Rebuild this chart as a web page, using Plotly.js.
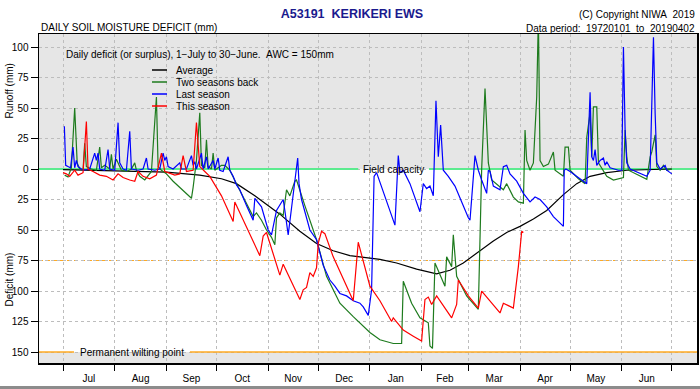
<!DOCTYPE html>
<html><head><meta charset="utf-8">
<script src="https://cdn.plot.ly/plotly-3.0.1.min.js"></script>
<style>html,body{margin:0;padding:0;background:#fff}#chart{width:700px;height:389px}</style>
</head><body><div id="chart"></div>
<script>
// ---- categories / ticks ----
const monthNames = ['Jul','Aug','Sep','Oct','Nov','Dec','Jan','Feb','Mar','Apr','May','Jun'];
const monthLengths = [31,31,30,31,30,31,31,28,31,30,31,30];
const yTickVals = [100,75,50,25,0,-25,-50,-75,-100,-125,-150];
const yTickText = ['100','75','50','25','0','25','50','75','100','125','150'];
const seriesNames = ['Average','Two seasons back','Last season','This season'];
const seriesColors = ['#000000','#1e7b1e','#0000ff','#ff0000'];
const fieldCapacity = 0, stressLine = -75, wiltingPoint = -150;

// ---- series: day of season (0 = 1 July), value (+ runoff, - deficit) ----
const avgDay = [0,20,40,62,82,95,104,115,130,142,152,162,172,182,190,200,212,224,232,240,250,258,266,274,282,290,300,308,316,326,338,350,365];
const avgVal = [-0.5,-1,-1.5,-2.5,-5,-8,-12,-22,-37,-51,-61,-67,-71,-72.5,-74,-77,-82,-86,-83,-77,-67,-59,-52,-47,-41,-34,-21,-12,-6,-3,-1,-0.5,0];

const twoBackDay = [1,3,5,7,8.5,10,12,13,14,17,20,22,23,25,28,29,30,32,35,38,41,43,44,46,49,53,56,57,59,62,66,70,74,77,78,80,82,83,85,86,87,89,90,91,93,95,97,100,104,108,114,116,119,122,125,127,128,130,132,134,136,139,140,145,152,158,166,174,184,190,198,203,204,209,214,219,220,221.5,223,229,230,233,234,236,242,249,251,253,254,255,257,264,266,270,273,276,277,278,280,282,284,285,286,288,291,294,295,300,301,303,304,309,313,314,316,317,318,320,321,326,330,334,336,337,338,339,345,350,352,353,355,356,358,360,362,365];
const twoBackVal = [-5,-6.5,1,50,5,0,-1,21,2,0,-1,18,1,3,0,12,0,8,-1,-2,0,5,-1,-6,-9,-2,59,2,-1,-4,-10,-15,-20,-24,-15,7,46,3,1,24,2,0,13,-1,1,3,3,-1,-12,-23,-39,-36,-42,-50,-56,-62,-40,-36,-38,-17,-22,-10,-9,-30,-58,-88,-110,-121,-134,-140,-143,-143,-92,-110,-122,-126,-145,-147,-77,-96,-72,-80,-54,-88,-104,-115,0,66,35,5,-9,-17,-12,-23,-27,-28,32,7,-1,5,59,125,7,2,4,14,-1,-6,18,18,-1,-8,-12,26,46,10,51,51,5,-6,-9,-8,-7,32,10,-1,-5,-8.5,10,14,28,2,-1,3,-1,0];

const lastDay = [0.8,1.6,3,4.5,6,7,8,9,12,16,19,20,21,22,25,27,28,31,33,34,36,38,40,41,45,48,50,51,55,58,60,61,62,63,66,70,71,74,77,78,79,80,83,84,86,87,90,91,93,94,96,99,100,102,104,106,110,114,115,119,123,125,128,130,132,133,135,137,139,140.7,141.5,143,148,152,156,160,163,166,170,174,178,180,183,185,186.5,188,199,201,202,204,208,214,216,218,220,222,223.6,225,226.4,228,231,235,243,244,247,249,251,254,255,256,258,262,264,266,268,272,276,280,283,286,290,294,300,300.5,301.5,304,314,315,316,317,318,319,320,322,324,325,326,328,333,335,336,337,338,340,350,352,353,354,355,356,358,361,362,365];
const lastVal = [35,3,2,1,18,1,7,2,-1,0,13,7,13,0,-1,16,0,-1,38,5,0,-1,31,0,-1,0,9,0,-1,0,13,7,10,2,0,5,0,0,11,3,6,0,13,0,10,0,7,0,9,-1,-2,10,-1,-6,-13,-17,-30,-42,-24,-31,-50,-54,-34,-30,-25,-34,-54,-32,-12,9,-12,-25,-50,-58,-79,-91,-96,-102,-104,-108,-110,-113,-120,-99,-6,-3,-46,11,-3,-1,-12,-35,-12,-16,-14,-22,56,10,36,-1,-6,-14,-40,-42,11,-1,-9,-20,-1,-2,-14,-17,2,3,-4,-10,-20,-27,-23,-25,-31,-39,-47,-1,0,-2,-12,26,63,10,7,16,3,7,9,3,6,1,-1,-1,100,32,5,0,-6,-1,46,108,46,5,0,3,-1,-4];

const thisDay = [0,2,4,7,9,12,14,15,18,22,26,30,33,36,40,43,45,48,52,56,59,61,63,67,70,72,74,78,80,82,85,88,95,102,103,110,118,120,122,130,132,142,144,146,148,150,152,153,155,157,162,168,174,177,184,190,197,198,204,210,215,217,219,221,224,233,236,237,243,249,251,262,264,267,270,273,275,276];
const thisVal = [-3,-4,-6,-1,-5,-3,39,0,-2,-5,-6,-9,-4,-7,-9,-10,-2,-6,-8,-5,13,-2,-3,-5,-4,11,-2,-1,38,2,-2,-6,-22,-43,-27,-48,-71,-55,-52,-87,-78,-107,-99,-97,-85,-88,-81,-61,-51,-53,-72,-90,-108,-60,-96,-108,-125,-122,-132,-137,-141,-107,-105,-111,-104,-122,-111,-91,-104,-114,-100,-118,-110,-112,-114,-80,-51,-52];

// ---- geometry (pixels of the 700x389 page) ----
const W = 700, H = 389;
const M = {l:39, r:3, t:34, b:26};
const PW = W - M.l - M.r, PH = H - M.t - M.b;
const px = x => (x - M.l) / PW;          // page x -> paper x
const py = y => (H - M.b - y) / PH;      // page y -> paper y
const X0 = -14.4, X1 = 380.1, Y0 = -159, Y1 = 110.66;

const monthStarts = [0];
monthLengths.forEach(l => monthStarts.push(monthStarts[monthStarts.length-1] + l));
const monthMids = monthLengths.map((l,i) => monthStarts[i] + l/2);

const FONT = 'Liberation Sans, Arial, Helvetica, sans-serif';
const NB = '\u00a0';

const seriesX = [avgDay, twoBackDay, lastDay, thisDay];
const seriesY = [avgVal, twoBackVal, lastVal, thisVal];
const traces = seriesNames.map((n,i) => ({
  type:'scatter', mode:'lines', name:n, x:seriesX[i], y:seriesY[i],
  line:{color:seriesColors[i], width:1.2}, showlegend:false, hoverinfo:'skip'
}));
// carrier for the month-name axis (no visible marks)
traces.unshift({type:'scatter', mode:'lines', x:monthMids, y:monthMids.map(()=>null), xaxis:'x2', yaxis:'y',
  showlegend:false, hoverinfo:'skip', line:{width:0}});

const shapes = [
  {type:'rect', xref:'paper', yref:'y', x0:0, x1:1, y0:fieldCapacity, y1:Y1, fillcolor:'#e6e6e6', line:{width:0}, layer:'below'},
  {type:'rect', xref:'paper', yref:'y', x0:0, x1:1, y0:Y0, y1:wiltingPoint, fillcolor:'#e6e6e6', line:{width:0}, layer:'below'},
  {type:'line', xref:'x', yref:'y', x0:X0, x1:177, y0:fieldCapacity, y1:fieldCapacity, line:{color:'#5ceb8f', width:2}, layer:'between'},
  {type:'line', xref:'x', yref:'y', x0:219.4, x1:X1, y0:fieldCapacity, y1:fieldCapacity, line:{color:'#5ceb8f', width:2}, layer:'between'},
  {type:'line', xref:'paper', yref:'y', x0:0, x1:1, y0:stressLine, y1:stressLine, line:{color:'#ffaa22', width:1.2, dash:'4px,3px'}, layer:'between'},
  {type:'line', xref:'x', yref:'y', x0:X0, x1:6.6, y0:wiltingPoint, y1:wiltingPoint, line:{color:'#ffaa22', width:1.5}, layer:'between'},
  {type:'line', xref:'x', yref:'y', x0:76.1, x1:X1, y0:wiltingPoint, y1:wiltingPoint, line:{color:'#ffaa22', width:1.5}, layer:'between'},
  {type:'rect', xref:'paper', yref:'paper', x0:px(0), x1:px(W), y0:py(389), y1:py(386), fillcolor:'#8c8c8c', line:{width:0}, layer:'above'}
];

const ann = [
  {text:'DAILY SOIL MOISTURE DEFICIT (mm)', x:px(39), y:py(28), xanchor:'left'},
  {text:'(C) Copyright NIWA'+NB+NB+'2019', x:px(697), y:py(15), xanchor:'right'},
  {text:'Data period:'+NB+NB+'19720101'+NB+NB+'to'+NB+NB+'20190402', x:px(697), y:py(28.5), xanchor:'right'},
  {text:'Daily deficit (or surplus), 1\u2212July to 30\u2212June.'+NB+NB+'AWC = 150mm', x:px(64), y:py(54), xanchor:'left'},
  {text:'Runoff (mm)', x:px(8.5), y:py(91), textangle:-90, xanchor:'center'},
  {text:'Deficit (mm)', x:px(8.5), y:py(280), textangle:-90, xanchor:'center'},
  {text:'Field capacity', xref:'x', yref:'y', x:198, y:fieldCapacity, xanchor:'center'},
  {text:'Permanent wilting point', xref:'x', yref:'y', x:41.5, y:wiltingPoint, xanchor:'center'}
].map(a => Object.assign({xref:'paper', yref:'paper', showarrow:false, yanchor:'middle', font:{family:FONT, size:10, color:'#000'}}, a));

seriesNames.forEach((n,i) => {
  const yy = py(70 + 12*i);
  shapes.push({type:'line', xref:'paper', yref:'paper', x0:px(152), x1:px(167), y0:yy, y1:yy, line:{color:seriesColors[i], width:1.5}});
  ann.push({text:n, xref:'paper', yref:'paper', x:px(174), y:yy, xanchor:'left', yanchor:'middle', showarrow:false, font:{family:FONT, size:10, color:'#000'}});
});

const layout = {
  width:W, height:H, margin:M, paper_bgcolor:'#fff', plot_bgcolor:'#fff',
  font:{family:FONT, size:10, color:'#000'},
  title:{text:'<b>A53191'+NB+NB+'KERIKERI EWS</b>', font:{family:FONT, size:12.5, color:'#1a1a8e'},
         xref:'container', yref:'container', x:352/W, xanchor:'center', y:1-14/H, yanchor:'middle'},
  showlegend:false,
  xaxis:{range:[X0,X1], tickmode:'array', tickvals:monthStarts, ticktext:monthStarts.map(()=>''),
         ticks:'outside', ticklen:6, tickwidth:1, tickcolor:'#000',
         showgrid:true, gridcolor:'#bdbdbd', gridwidth:1, griddash:'3px,3px',
         zeroline:false, showline:true, mirror:true, linecolor:'#000', linewidth:1.5, fixedrange:true},
  xaxis2:{overlaying:'x', anchor:'y', side:'bottom', range:[X0,X1], tickmode:'array', tickvals:monthMids, ticktext:monthNames,
          ticks:'outside', ticklen:6, tickcolor:'rgba(0,0,0,0)', showgrid:false, zeroline:false, showline:false,
          tickfont:{family:FONT, size:10, color:'#000'}, fixedrange:true},
  yaxis:{range:[Y0,Y1], tickmode:'array', tickvals:yTickVals, ticktext:yTickText,
         ticks:'outside', ticklen:7, tickwidth:1, tickcolor:'#000',
         showgrid:true, gridcolor:'#bdbdbd', gridwidth:1, griddash:'3px,3px',
         zeroline:false, showline:true, mirror:true, linecolor:'#000', linewidth:1.5,
         tickfont:{family:FONT, size:10, color:'#000'}, fixedrange:true},
  shapes:shapes, annotations:ann
};

Plotly.newPlot('chart', traces, layout, {staticPlot:true, displayModeBar:false});
</script></body></html>
